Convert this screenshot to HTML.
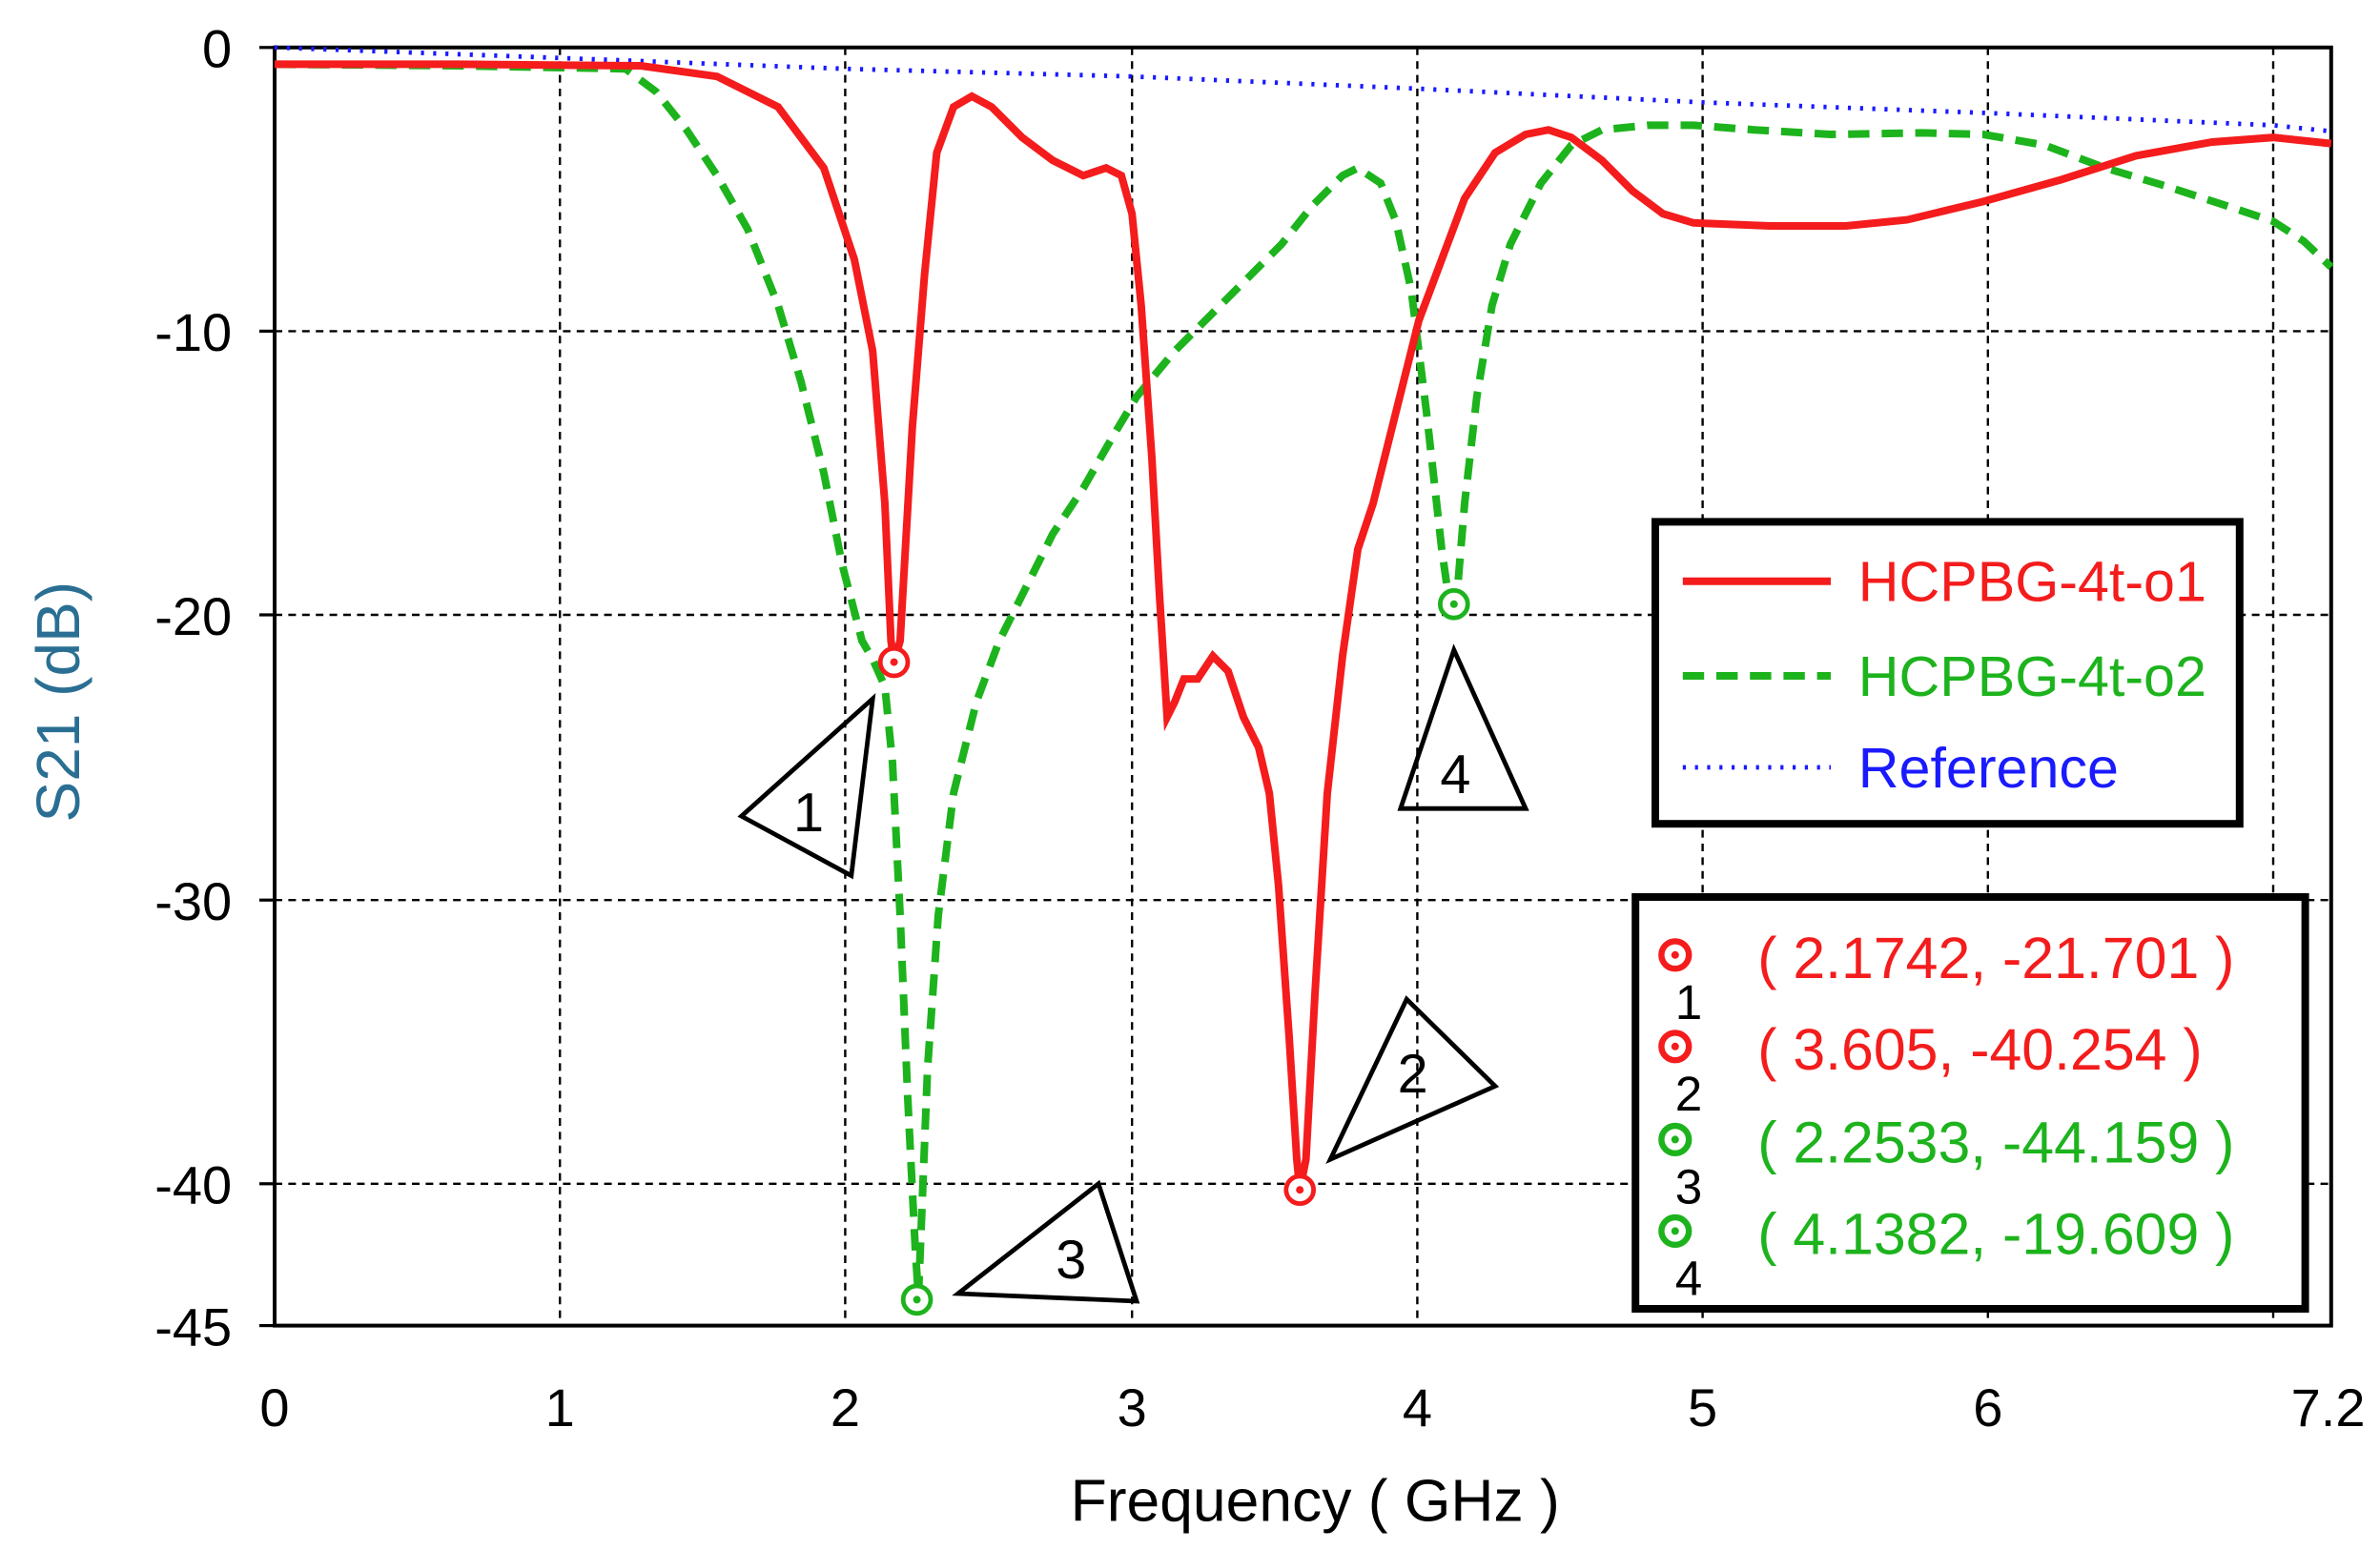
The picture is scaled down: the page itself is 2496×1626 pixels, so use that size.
<!DOCTYPE html>
<html><head><meta charset="utf-8"><style>html,body{margin:0;padding:0;background:#fff}svg{display:block}</style></head>
<body>
<svg width="2496" height="1626" viewBox="0 0 1560 1016" xmlns="http://www.w3.org/2000/svg" font-family="Liberation Sans, DejaVu Sans, sans-serif">
<rect width="1560" height="1016" fill="#fff"/>
<g stroke="#000" stroke-width="1.5" stroke-dasharray="5,4" fill="none">
<line x1="367" y1="31" x2="367" y2="869"/><line x1="554" y1="31" x2="554" y2="869"/><line x1="742" y1="31" x2="742" y2="869"/><line x1="929" y1="31" x2="929" y2="869"/><line x1="1116" y1="31" x2="1116" y2="869"/><line x1="1303" y1="31" x2="1303" y2="869"/><line x1="1490" y1="31" x2="1490" y2="869"/>
<line x1="180" y1="217" x2="1528" y2="217"/><line x1="180" y1="403" x2="1528" y2="403"/><line x1="180" y1="590" x2="1528" y2="590"/><line x1="180" y1="776" x2="1528" y2="776"/>
</g>
<rect x="180" y="31" width="1348" height="838" fill="none" stroke="#000" stroke-width="2.5"/>
<g stroke="#000" stroke-width="2"><line x1="170" y1="31" x2="180" y2="31"/><line x1="170" y1="217" x2="180" y2="217"/><line x1="170" y1="403" x2="180" y2="403"/><line x1="170" y1="590" x2="180" y2="590"/><line x1="170" y1="776" x2="180" y2="776"/><line x1="170" y1="869" x2="180" y2="869"/></g>
<polyline fill="none" stroke="#1a1aff" stroke-width="3" stroke-dasharray="2,6" points="180,31 370,38 554,45 742,50 929,58 1116,67 1303,74 1490,82 1528,86"/>
<polyline fill="none" stroke="#1db31d" stroke-width="5" stroke-dasharray="14,8" points="180,42 300,43 410,45 430,60 450,85 470,115 490,150 510,200 525,250 540,310 552,370 565,420 572,432 580,450 585,500 590,600 595,720 600,820 602,850 604,800 608,700 615,600 625,520 640,460 655,420 670,390 690,350 710,320 730,285 745,260 770,230 790,210 810,190 840,160 860,135 880,115 890,110 905,120 915,145 925,190 935,270 945,360 950,395 955,390 960,330 968,260 978,200 990,160 1010,120 1030,95 1050,85 1080,82 1110,82 1150,85 1200,88 1260,87 1300,88 1340,95 1380,110 1420,122 1460,135 1490,145 1510,158 1528,175"/>
<polyline fill="none" stroke="#f41c1c" stroke-width="5" points="180,42 300,42 420,43 470,50 510,70 540,110 560,170 572,230 580,330 584,420 586,434 590,420 598,280 606,180 614,100 625,70 637,63 650,70 670,90 690,105 710,115 725,110 735,115 742,140 748,200 755,300 760,390 765,470 770,460 776,445 785,445 795,430 805,440 815,470 825,490 832,520 838,580 845,680 850,760 852,780 856,760 862,650 870,520 880,430 890,360 900,330 915,270 930,210 945,170 960,130 980,100 1000,88 1015,85 1030,90 1050,105 1070,125 1090,140 1110,146 1160,148 1210,148 1250,144 1300,132 1350,118 1400,102 1450,93 1490,90 1528,94"/>
<g fill="#fff" stroke-width="3">
<circle cx="586" cy="434" r="9" stroke="#f41c1c"/><circle cx="852" cy="780" r="9" stroke="#f41c1c"/>
<circle cx="601" cy="852" r="9" stroke="#1db31d"/><circle cx="953" cy="396" r="9" stroke="#1db31d"/>
</g>
<g><circle cx="586" cy="434" r="2.5" fill="#f41c1c"/><circle cx="852" cy="780" r="2.5" fill="#f41c1c"/><circle cx="601" cy="852" r="2.5" fill="#1db31d"/><circle cx="953" cy="396" r="2.5" fill="#1db31d"/></g>
<g fill="none" stroke="#000" stroke-width="3">
<polygon points="572,458 486,535 558,574"/><polygon points="922,655 980,712 872,760"/><polygon points="720,776 745,853 628,848"/><polygon points="953,426 1000,530 918,530"/>
</g>
<g font-size="36" fill="#000">
<text x="520" y="545">1</text><text x="916" y="716">2</text><text x="692" y="838">3</text><text x="944" y="520">4</text>
</g>
<g font-size="35" fill="#000" text-anchor="end">
<text x="152" y="44">0</text><text x="152" y="230">-10</text><text x="152" y="416">-20</text><text x="152" y="603">-30</text><text x="152" y="789">-40</text><text x="152" y="882">-45</text>
</g>
<g font-size="35" fill="#000" text-anchor="middle">
<text x="180" y="935">0</text><text x="367" y="935">1</text><text x="554" y="935">2</text><text x="742" y="935">3</text><text x="929" y="935">4</text><text x="1116" y="935">5</text><text x="1303" y="935">6</text><text x="1526" y="935">7.2</text>
<text x="862" y="997" font-size="39">Frequency  ( GHz )</text>
</g>
<text transform="translate(52,460) rotate(-90)" font-size="40" fill="#2a6f93" text-anchor="middle">S21 (dB)</text>
<rect x="1085" y="342" width="383" height="198" fill="#fff" stroke="#000" stroke-width="5"/>
<line x1="1103" y1="381" x2="1200" y2="381" stroke="#f41c1c" stroke-width="5"/>
<line x1="1103" y1="443" x2="1200" y2="443" stroke="#1db31d" stroke-width="5" stroke-dasharray="14,8"/>
<line x1="1103" y1="503" x2="1200" y2="503" stroke="#1a1aff" stroke-width="3" stroke-dasharray="2,6"/>
<g font-size="37"><text x="1218" y="394" fill="#f41c1c">HCPBG-4t-o1</text><text x="1218" y="456" fill="#1db31d">HCPBG-4t-o2</text><text x="1218" y="516" fill="#1a1aff">Reference</text></g>
<rect x="1072" y="588" width="439" height="270" fill="#fff" stroke="#000" stroke-width="5"/>
<g fill="#fff" stroke-width="4"><circle cx="1098" cy="626" r="9" stroke="#f41c1c"/><circle cx="1098" cy="686" r="9" stroke="#f41c1c"/><circle cx="1098" cy="747" r="9" stroke="#1db31d"/><circle cx="1098" cy="807" r="9" stroke="#1db31d"/></g>
<g><circle cx="1098" cy="626" r="2.5" fill="#f41c1c"/><circle cx="1098" cy="686" r="2.5" fill="#f41c1c"/><circle cx="1098" cy="747" r="2.5" fill="#1db31d"/><circle cx="1098" cy="807" r="2.5" fill="#1db31d"/></g>
<g font-size="32" fill="#000"><text x="1098" y="668">1</text><text x="1098" y="728">2</text><text x="1098" y="789">3</text><text x="1098" y="849">4</text></g>
<g font-size="38"><text x="1152" y="641" fill="#f41c1c">( 2.1742, -21.701 )</text><text x="1152" y="701" fill="#f41c1c">( 3.605, -40.254 )</text><text x="1152" y="762" fill="#1db31d">( 2.2533, -44.159 )</text><text x="1152" y="822" fill="#1db31d">( 4.1382, -19.609 )</text></g>
</svg>
</body></html>
